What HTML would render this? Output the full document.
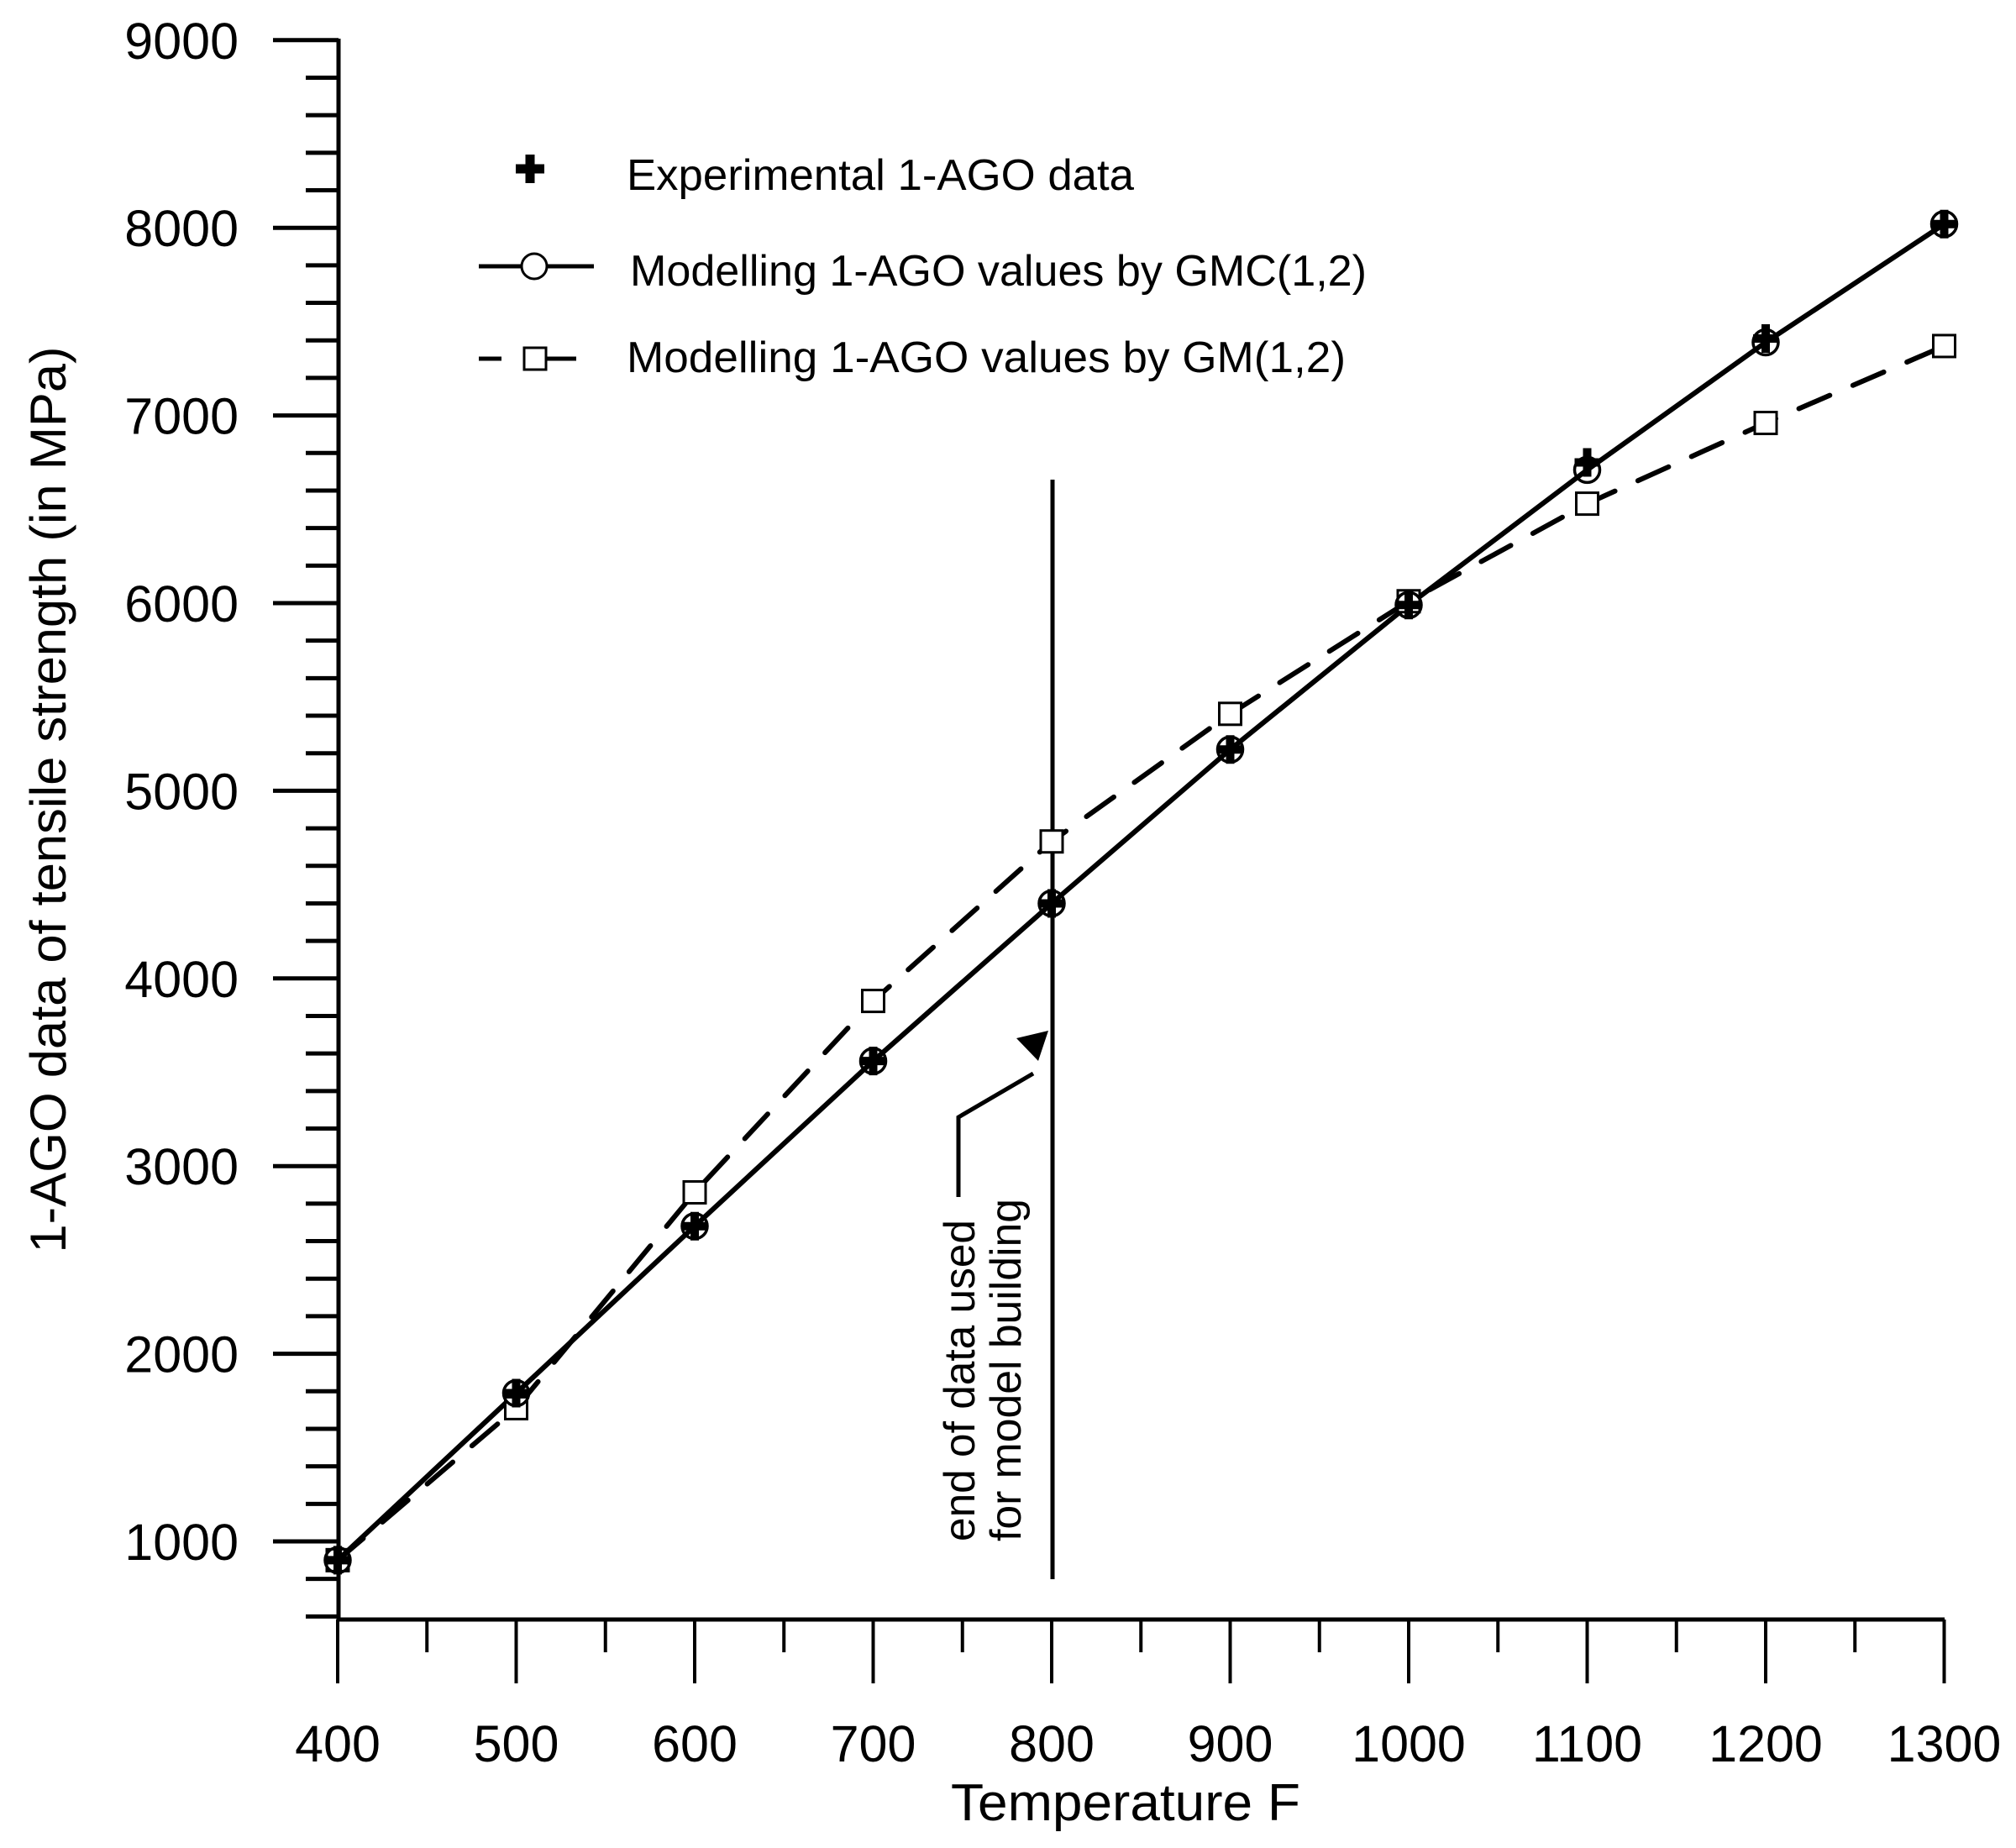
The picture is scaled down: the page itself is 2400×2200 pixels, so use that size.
<!DOCTYPE html>
<html><head><meta charset="utf-8"><style>html,body{margin:0;padding:0;background:#fff}svg{display:block}</style></head>
<body>
<svg width="2400" height="2200" viewBox="0 0 2400 2200" xmlns="http://www.w3.org/2000/svg" font-family="Liberation Sans, Arial, sans-serif">
<rect width="2400" height="2200" fill="#fff"/>
<g stroke="#000" stroke-width="5" fill="none">
<line x1="403" y1="46" x2="403" y2="1930"/>
<line x1="401" y1="1928" x2="2315" y2="1928"/>
</g>
<g id="yt" stroke="#000" stroke-width="5"></g>
<g id="xt" stroke="#000" stroke-width="4"></g>
<g id="yl" font-size="61" text-anchor="end"></g>
<g id="xl" font-size="61" text-anchor="middle"></g>
<text x="1340" y="2167" font-size="62" text-anchor="middle" textLength="416" lengthAdjust="spacingAndGlyphs">Temperature F</text>
<text transform="translate(78,952) rotate(-90)" font-size="60" text-anchor="middle" textLength="1079" lengthAdjust="spacingAndGlyphs">1-AGO data of tensile strength (in MPa)</text>
<line x1="1253" y1="571" x2="1253" y2="1880" stroke="#000" stroke-width="5"/>
<polyline points="1141,1425 1141,1330 1230,1278" fill="none" stroke="#000" stroke-width="5"/>
<polygon points="1248,1227 1210,1236 1236,1263" fill="#000"/>
<text transform="translate(1160,1835) rotate(-90)" font-size="52" textLength="383" lengthAdjust="spacingAndGlyphs">end of data used</text>
<text transform="translate(1215,1835) rotate(-90)" font-size="52" textLength="408" lengthAdjust="spacingAndGlyphs">for model building</text>
<g id="series"></g>
<path d="M631,184 V218 M614,201 H648" stroke="#000" stroke-width="11"/>
<text x="746" y="226" font-size="52" textLength="604" lengthAdjust="spacingAndGlyphs">Experimental 1-AGO data</text>
<line x1="570" y1="317" x2="707" y2="317" stroke="#000" stroke-width="5"/>
<ellipse cx="636" cy="317" rx="15" ry="15" fill="#fff" stroke="#000" stroke-width="3"/>
<text x="750" y="340" font-size="52" textLength="877" lengthAdjust="spacingAndGlyphs">Modelling 1-AGO values by GMC(1,2)</text>
<line x1="570" y1="427" x2="597" y2="427" stroke="#000" stroke-width="5"/>
<line x1="647" y1="427" x2="686" y2="427" stroke="#000" stroke-width="5"/>
<rect x="624" y="414" width="26" height="26" fill="#fff" stroke="#000" stroke-width="3"/>
<text x="746" y="443" font-size="52" textLength="856" lengthAdjust="spacingAndGlyphs">Modelling 1-AGO values by GM(1,2)</text>
<script>
const NS="http://www.w3.org/2000/svg";
function el(p,t,a,txt){const e=document.createElementNS(NS,t);for(const k in a)e.setAttribute(k,a[k]);if(txt)e.textContent=txt;document.getElementById(p).appendChild(e);return e;}
const X=t=>402+(t-400)*2.125, Y=v=>1835-(v-1000)*0.2234;
for(let v=600;v<=9000;v+=200){const y=Y(v);const maj=v%1000==0;el('yt','line',{x1:maj?325:364,y1:y,x2:403,y2:y});if(maj)el('yl','text',{x:284,y:y+22},String(v));}
for(let t=400;t<=1300;t+=50){const x=X(t);const maj=t%100==0;el('xt','line',{x1:x,y1:1928,x2:x,y2:maj?2004:1967});if(maj)el('xl','text',{x:x,y:2097},String(t));}
const T=[400,500,600,700,800,900,1000,1100,1200,1300];
const gmc=[900,1790,2680,3560,4400,5220,5990,6710,7390,8020];
const exp=[900,1790,2680,3560,4400,5220,5990,6750,7410,8020];
const gm=[900,1710,2860,3880,4730,5410,6010,6530,6960,7370];
el('series','polyline',{points:T.map((t,i)=>X(t)+','+Y(gm[i])).join(' '),fill:'none',stroke:'#000','stroke-width':6,'stroke-dasharray':'40,30','stroke-linecap':'round'});
el('series','polyline',{points:T.map((t,i)=>X(t)+','+Y(gmc[i])).join(' '),fill:'none',stroke:'#000','stroke-width':6});
T.forEach((t,i)=>{if(i>0)el('series','rect',{x:X(t)-13,y:Y(gm[i])-13,width:26,height:26,fill:'#fff',stroke:'#000','stroke-width':3});});
T.forEach((t,i)=>{el('series','circle',{cx:X(t),cy:Y(gmc[i]),r:15,fill:'none',stroke:'#000','stroke-width':3.5});
const x=X(t),y=Y(exp[i]);el('series','path',{d:`M${x},${y-17}V${y+17}M${x-15},${y}H${x+15}`,stroke:'#000','stroke-width':10});});
el('series','rect',{x:X(400)-13,y:Y(900)-13,width:26,height:26,fill:'none',stroke:'#000','stroke-width':3});
</script>
</svg>
</body></html>
